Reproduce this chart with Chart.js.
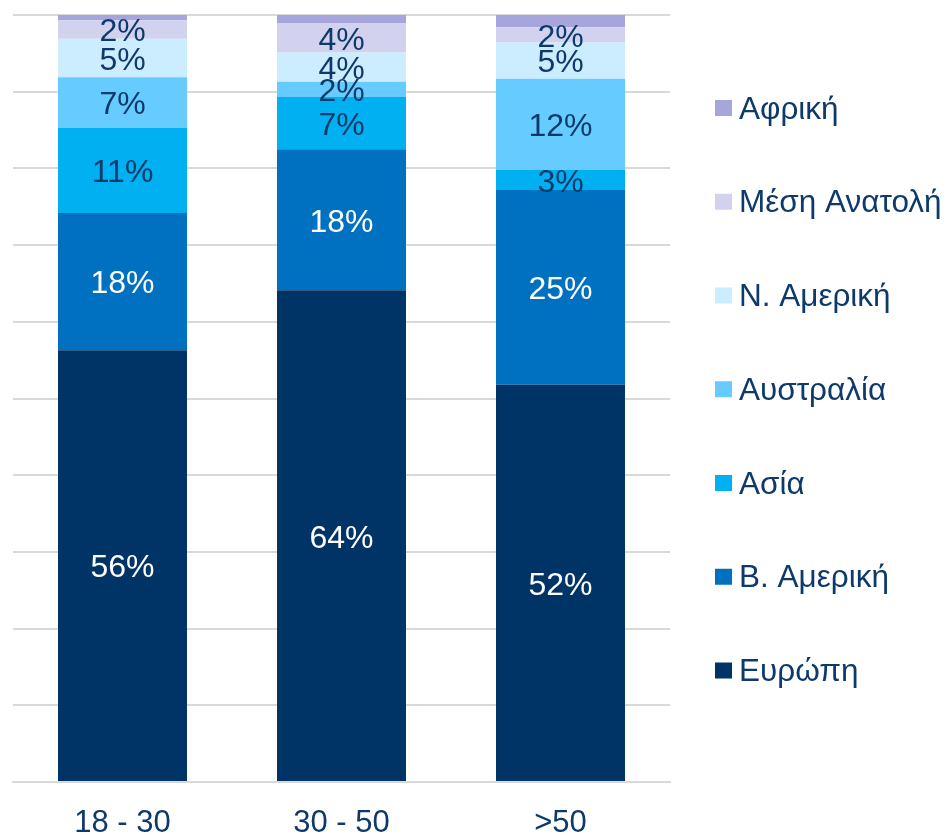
<!DOCTYPE html>
<html>
<head>
<meta charset="utf-8">
<script src="https://cdn.jsdelivr.net/npm/chart.js@4.4.1/dist/chart.umd.min.js"></script>
<style>
  html, body { margin: 0; padding: 0; background: #ffffff; }
  #wrap { position: relative; width: 947px; height: 835px; }
</style>
</head>
<body>
<div id="wrap"><canvas id="c"></canvas></div>
<script>
// ---- Data (percent of each age group) ----
const categories = ['18 - 30', '30 - 50', '>50'];
const europe     = [56.3, 64.1, 51.8];
const bAmerica   = [17.9, 18.4, 25.4];
const asia       = [11.1,  6.8,  2.6];
const australia  = [ 6.6,  2.0, 11.9];
const nAmerica   = [ 5.0,  3.8,  4.7];
const middleEast = [ 2.4,  3.8,  2.0];
const africa     = [ 0.7,  1.1,  1.6];
const seriesNames = ['Ευρώπη', 'Β. Αμερική', 'Ασία', 'Αυστραλία', 'Ν. Αμερική', 'Μέση Ανατολή', 'Αφρική'];
const yTicks = [0, 10, 20, 30, 40, 50, 60, 70, 80, 90, 100];

const colors = ['#003366', '#0070C0', '#00B0F0', '#66CCFF', '#CCECFF', '#D2D2EF', '#A6A6DD'];
const labelColors = ['#FFFFFF', '#FFFFFF', '#0E3A6B', '#0E3A6B', '#0E3A6B', '#0E3A6B', null];
const FONT = '"Liberation Sans", Arial, sans-serif';
const NAVY = '#0E3A6B';

const seriesValues = [europe, bAmerica, asia, australia, nAmerica, middleEast, africa];

const datasets = seriesValues.map((vals, i) => ({
  label: seriesNames[i],
  data: vals,
  backgroundColor: colors[i],
  borderWidth: 0,
  barPercentage: 0.589,
  categoryPercentage: 1.0,
  labelColor: labelColors[i]
}));

const barLabels = {
  id: 'barLabels',
  afterDatasetsDraw(chart) {
    const ctx = chart.ctx;
    ctx.save();
    ctx.font = '32px ' + FONT;
    ctx.textAlign = 'center';
    ctx.textBaseline = 'middle';
    chart.data.datasets.forEach((ds, di) => {
      if (!ds.labelColor) return;
      const meta = chart.getDatasetMeta(di);
      meta.data.forEach((el, j) => {
        const v = ds.data[j];
        ctx.fillStyle = ds.labelColor;
        ctx.fillText(Math.round(v) + '%', el.x, (el.y + el.base) / 2 + 3);
      });
    });
    ctx.restore();
  }
};

const sideLegend = {
  id: 'sideLegend',
  afterDraw(chart) {
    const ctx = chart.ctx;
    const ca = chart.chartArea;
    const n = chart.data.datasets.length;
    const x0 = ca.right + 45;
    const step = 93.75;
    const yFirst = 108;
    ctx.save();
    ctx.font = '31.5px ' + FONT;
    ctx.textAlign = 'left';
    ctx.textBaseline = 'middle';
    for (let k = 0; k < n; k++) {
      const di = n - 1 - k;
      const ds = chart.data.datasets[di];
      const yc = yFirst + k * step;
      ctx.fillStyle = ds.backgroundColor;
      ctx.fillRect(x0, yc - 8, 17, 16);
      ctx.fillStyle = NAVY;
      ctx.fillText(ds.label, x0 + 24, yc + 2);
    }
    ctx.restore();
  }
};

new Chart(document.getElementById('c'), {
  type: 'bar',
  data: { labels: categories, datasets },
  options: {
    responsive: true,
    maintainAspectRatio: false,
    animation: false,
    layout: { padding: { left: 13, top: 15, right: 277, bottom: 0 } },
    plugins: { legend: { display: false }, tooltip: { enabled: false } },
    scales: {
      x: {
        stacked: true,
        grid: { display: false, drawTicks: false },
        border: { display: true, color: '#D9D9D9', width: 2 },
        ticks: { color: NAVY, font: { family: FONT, size: 31 }, padding: 23 },
        afterFit(scale) { scale.height = 53; }
      },
      y: {
        stacked: true,
        min: yTicks[0],
        max: yTicks[yTicks.length - 1],
        afterBuildTicks(scale) { scale.ticks = yTicks.map(v => ({ value: v })); },
        grid: { color: '#D9D9D9', lineWidth: 2, drawTicks: false },
        border: { display: false },
        ticks: { display: false }
      }
    }
  },
  plugins: [barLabels, sideLegend]
});
</script>
</body>
</html>
